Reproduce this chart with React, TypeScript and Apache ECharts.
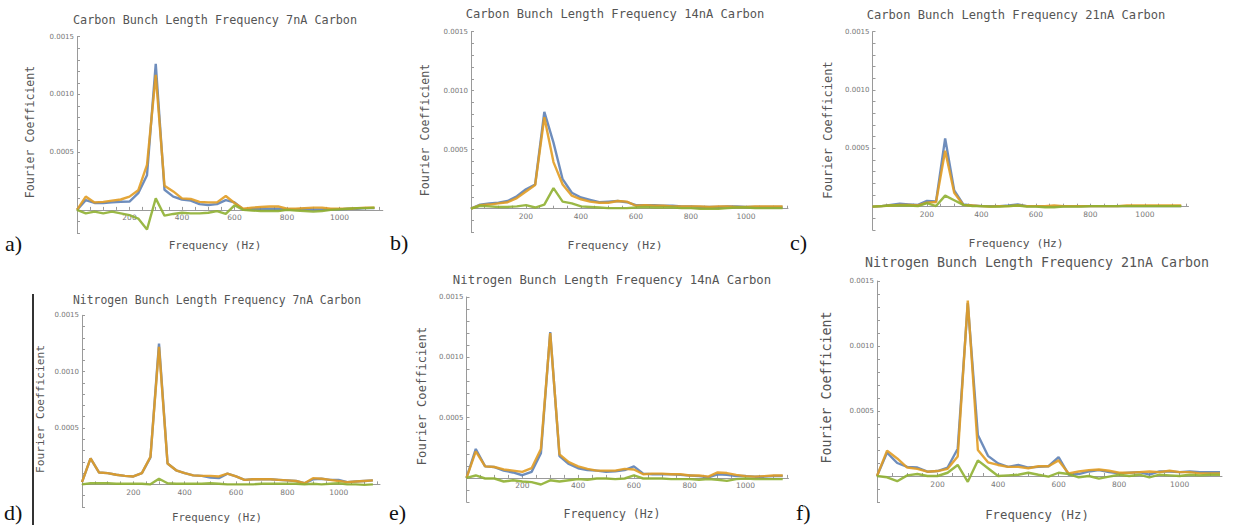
import React, { useEffect, useRef } from "react";
import * as echarts from "echarts";

// Frequency bins (Hz)
const FREQ = [0, 33.3, 66.7, 100, 133.3, 166.7, 200, 233.3, 266.7, 300, 333.3, 366.7, 400, 433.3, 466.7, 500, 533.3, 566.7, 600, 633.3, 666.7, 700, 733.3, 766.7, 800, 833.3, 866.7, 900, 933.3, 966.7, 1000, 1033.3, 1066.7, 1100, 1133.3];

// Values in units of 1e-4 (Fourier coefficient)
const A_BLUE = [0, 0.85, 0.6, 0.6, 0.65, 0.7, 0.72, 1.45, 3.0, 12.65, 1.75, 1.15, 0.9, 0.8, 0.5, 0.43, 0.5, 0.85, 0.65, 0.05, 0.1, 0.1, 0.1, 0.1, 0.05, 0.05, 0.1, 0.05, 0.05, 0.05, 0.05, 0.1, 0.1, 0.15, 0.15];
const A_ORANGE = [0, 1.15, 0.65, 0.7, 0.8, 0.9, 1.15, 1.7, 3.9, 11.7, 2.1, 1.6, 1.0, 0.95, 0.7, 0.65, 0.65, 1.2, 0.6, 0.1, 0.2, 0.25, 0.3, 0.3, 0.1, 0.1, 0.15, 0.2, 0.2, 0.1, 0.1, 0.1, 0.15, 0.2, 0.2];
const A_GREEN = [0, -0.3, -0.15, -0.3, -0.15, -0.3, -0.45, -0.75, -1.7, 1.0, -0.5, -0.35, -0.25, -0.3, -0.3, -0.25, -0.1, -0.35, 0.4, 0.0, -0.05, -0.1, -0.1, -0.1, 0.0, -0.05, -0.1, -0.15, -0.1, 0.0, 0.05, 0.1, 0.15, 0.15, 0.2];

const B_BLUE = [0, 0.35, 0.45, 0.5, 0.65, 1.05, 1.65, 2.05, 8.2, 5.6, 2.5, 1.35, 0.95, 0.75, 0.55, 0.6, 0.65, 0.55, 0.3, 0.3, 0.3, 0.25, 0.25, 0.2, 0.2, 0.15, 0.15, 0.15, 0.2, 0.2, 0.15, 0.15, 0.15, 0.15, 0.15];
const B_ORANGE = [0, 0.3, 0.35, 0.45, 0.55, 0.9, 1.45, 2.0, 7.75, 3.95, 2.05, 1.1, 0.8, 0.6, 0.5, 0.5, 0.65, 0.6, 0.25, 0.3, 0.25, 0.25, 0.2, 0.2, 0.2, 0.2, 0.15, 0.2, 0.2, 0.15, 0.15, 0.2, 0.2, 0.2, 0.2];
const B_GREEN = [0, 0.25, 0.2, 0.15, 0.15, 0.2, 0.3, 0.1, 0.35, 1.75, 0.6, 0.45, 0.2, 0.15, 0.1, 0.05, 0.05, 0.05, 0.1, 0.15, 0.1, 0.1, 0.1, 0.05, 0.05, 0.0, 0.0, 0.0, 0.05, 0.1, 0.1, 0.05, 0.05, 0.05, 0.05];

const C_BLUE = [0, 0.05, 0.15, 0.25, 0.2, 0.15, 0.5, 0.45, 5.85, 1.4, 0.2, 0.1, 0.05, 0.05, 0.05, 0.1, 0.2, 0.05, 0.05, 0.0, 0.0, 0.05, 0.05, 0.05, 0.05, 0.05, 0.05, 0.05, 0.05, 0.05, 0.05, 0.05, 0.05, 0.05, 0.05];
const C_ORANGE = [0, 0.05, 0.1, 0.15, 0.15, 0.1, 0.35, 0.4, 4.8, 1.2, 0.15, 0.1, 0.05, 0.0, 0.05, 0.05, 0.1, 0.05, 0.05, 0.05, 0.1, 0.05, 0.05, 0.05, 0.05, 0.05, 0.05, 0.05, 0.1, 0.1, 0.1, 0.1, 0.1, 0.1, 0.1];
const C_GREEN = [0, 0.05, 0.1, 0.1, 0.1, 0.05, 0.3, 0.05, 0.95, 0.55, 0.15, 0.05, 0.05, 0.0, 0.0, 0.05, 0.1, 0.0, 0.0, -0.05, -0.05, 0.0, 0.0, 0.0, 0.05, 0.05, 0.05, 0.05, 0.05, 0.05, 0.05, 0.05, 0.05, 0.05, 0.05];

const D_BLUE = [0.2, 2.3, 1.05, 1.0, 0.85, 0.75, 0.7, 1.0, 2.4, 12.5, 1.85, 1.25, 1.0, 0.8, 0.75, 0.6, 0.55, 0.95, 0.7, 0.4, 0.45, 0.45, 0.45, 0.4, 0.35, 0.3, 0.1, 0.45, 0.5, 0.4, 0.4, 0.2, 0.25, 0.3, 0.35];
const D_ORANGE = [0.2, 2.3, 1.05, 1.0, 0.85, 0.75, 0.7, 1.0, 2.45, 12.2, 1.85, 1.25, 1.0, 0.8, 0.75, 0.75, 0.7, 0.95, 0.7, 0.4, 0.45, 0.45, 0.45, 0.4, 0.35, 0.3, 0.1, 0.55, 0.5, 0.4, 0.3, 0.2, 0.25, 0.3, 0.35];
const D_GREEN = [0, 0.1, 0.1, 0.1, 0.05, 0.05, 0.05, 0.05, 0.0, 0.5, 0.1, 0.05, 0.05, 0.05, 0.05, 0.1, 0.05, 0.0, 0.0, 0.0, 0.0, 0.05, 0.05, 0.05, 0.05, 0.05, 0.0, 0.05, 0.0, 0.05, 0.1, 0.0, 0.0, -0.05, 0.0];

const E_BLUE = [0, 2.4, 0.95, 0.9, 0.6, 0.45, 0.22, 0.5, 2.05, 12.1, 1.8, 1.15, 0.8, 0.65, 0.6, 0.5, 0.55, 0.65, 0.95, 0.35, 0.3, 0.3, 0.3, 0.25, 0.2, 0.15, 0.05, 0.3, 0.25, 0.15, 0.15, 0.1, 0.1, 0.15, 0.15];
const E_ORANGE = [0, 2.2, 0.95, 0.9, 0.7, 0.6, 0.5, 0.8, 2.4, 12.0, 1.95, 1.3, 0.95, 0.75, 0.6, 0.6, 0.6, 0.75, 0.7, 0.3, 0.35, 0.35, 0.3, 0.3, 0.2, 0.2, 0.1, 0.45, 0.4, 0.25, 0.15, 0.1, 0.15, 0.2, 0.2];
const E_GREEN = [0, 0.2, -0.05, -0.05, -0.3, -0.2, -0.3, -0.35, -0.55, -0.2, -0.3, -0.2, -0.1, -0.15, -0.05, -0.05, -0.1, -0.05, 0.2, -0.05, -0.05, -0.05, -0.1, -0.1, -0.1, -0.15, -0.1, -0.15, -0.25, -0.1, -0.05, -0.1, -0.1, -0.1, -0.1];

const F_BLUE = [0, 1.8, 1.0, 0.7, 0.65, 0.33, 0.38, 0.65, 2.1, 13.3, 3.15, 1.55, 0.97, 0.7, 0.85, 0.65, 0.7, 0.75, 1.45, 0.1, 0.15, 0.35, 0.45, 0.3, 0.2, 0.25, 0.3, 0.1, 0.35, 0.35, 0.3, 0.35, 0.3, 0.3, 0.3];
const F_ORANGE = [0, 1.95, 1.35, 0.65, 0.55, 0.33, 0.38, 0.55, 1.5, 13.5, 2.0, 1.05, 0.85, 0.7, 0.7, 0.6, 0.75, 0.75, 1.2, 0.2, 0.35, 0.45, 0.5, 0.4, 0.25, 0.25, 0.3, 0.35, 0.3, 0.4, 0.3, 0.3, 0.2, 0.2, 0.2];
const F_GREEN = [0, -0.1, -0.4, 0.05, 0.15, 0.0, 0.0, 0.25, 0.85, -0.45, 1.2, 0.6, 0.0, 0.05, 0.1, 0.25, 0.1, -0.05, 0.25, 0.15, -0.1, 0.0, -0.2, -0.05, 0.1, 0.0, 0.1, -0.1, 0.1, 0.05, 0.0, 0.1, 0.05, 0.1, 0.1];

const TITLES = [
  "Carbon Bunch Length Frequency 7nA Carbon",
  "Carbon Bunch Length Frequency 14nA Carbon",
  "Carbon Bunch Length Frequency 21nA Carbon",
  "Nitrogen Bunch Length Frequency 7nA Carbon",
  "Nitrogen Bunch Length Frequency 14nA Carbon",
  "Nitrogen Bunch Length Frequency 21nA Carbon",
];
const PANEL_LABELS = ["a)", "b)", "c)", "d)", "e)", "f)"];
const X_NAME = "Frequency (Hz)";
const Y_NAME = "Fourier Coefficient";

const X_LABELS = [200, 400, 600, 800, 1000];
const X_TICKS = [50, 100, 150, 200, 250, 300, 350, 400, 450, 500, 550, 600, 650, 700, 750, 800, 850, 900, 950, 1000, 1050, 1100, 1150];
const Y_LABELS = [5, 10, 15];
const Y_TICKS = [-2, -1, 0, 1, 2, 3, 4, 5, 6, 7, 8, 9, 10, 11, 12, 13, 14, 15];
const Y_MIN = -2;
const Y_MAX = 15;

const SERIES_DATA = [
  [A_BLUE, A_ORANGE, A_GREEN],
  [B_BLUE, B_ORANGE, B_GREEN],
  [C_BLUE, C_ORANGE, C_GREEN],
  [D_BLUE, D_ORANGE, D_GREEN],
  [E_BLUE, E_ORANGE, E_GREEN],
  [F_BLUE, F_ORANGE, F_GREEN],
];

const COLORS = ["#5E81B5", "#E19C24", "#8FB032"];

// Layout (pixels)
const LAYOUT = [
  { left: 77, top: 36.7, width: 305.8, height: 196.3, xmax: 1165, tx: 215, ty: 20, ts: 11.8, xx: 215, xy: 245, xs: 11, yx: 30, yy: 132, ys: 11.6, lx: 5, ly: 243 },
  { left: 471, top: 31.7, width: 317, height: 200.6, xmax: 1153, tx: 615, ty: 14, ts: 12.1, xx: 615, xy: 245, xs: 11.3, yx: 425, yy: 130, ys: 11.6, lx: 390, ly: 242 },
  { left: 872.5, top: 31.7, width: 316, height: 198.3, xmax: 1160, tx: 1016, ty: 15, ts: 12.1, xx: 1016, xy: 243, xs: 11.3, yx: 828, yy: 130, ys: 12, lx: 790, ly: 242 },
  { left: 82, top: 315.3, width: 298, height: 191.6, xmax: 1161, tx: 217, ty: 300, ts: 11.4, xx: 217, xy: 517, xs: 10.7, yx: 40.7, yy: 409, ys: 11.2, lx: 4, ly: 512 },
  { left: 466.5, top: 297, width: 322, height: 205, xmax: 1154, tx: 612, ty: 280, ts: 12.3, xx: 612, xy: 514, xs: 11.5, yx: 422, yy: 396, ys: 12.1, lx: 389, ly: 512 },
  { left: 877, top: 281, width: 345, height: 221, xmax: 1140, tx: 1037, ty: 262, ts: 13.3, xx: 1037, xy: 515, xs: 12.3, yx: 826.7, yy: 387.5, ys: 13.3, lx: 796, ly: 512 },
];

const MONO = "'DejaVu Sans Mono', monospace";

export default function App() {
  const ref = useRef<HTMLDivElement>(null);
  useEffect(() => {
    if (!ref.current) return;
    const chart = echarts.init(ref.current, undefined, { renderer: "svg" });
    const grid: any[] = [];
    const xAxis: any[] = [];
    const yAxis: any[] = [];
    const series: any[] = [];
    const graphic: any[] = [];
    LAYOUT.forEach((L, k) => {
      grid.push({ left: L.left, top: L.top, width: L.width, height: L.height, containLabel: false });
      // put the x axis on the zero line (Mathematica style axes)
      const zeroOffset = (L.height * (0 - Y_MIN)) / (Y_MAX - Y_MIN);
      xAxis.push({
        type: "value",
        gridIndex: k,
        min: 0,
        max: L.xmax,
        position: "bottom",
        offset: -zeroOffset,
        axisLine: { show: true, onZero: false, lineStyle: { color: "#9a9a9a", width: 1 } },
        axisTick: { show: true, inside: true, length: 3, customValues: X_TICKS.filter((t) => t < L.xmax), lineStyle: { color: "#9a9a9a" } },
        axisLabel: {
          show: true,
          customValues: X_LABELS,
          fontSize: 7.5,
          color: "#777",
          fontFamily: "'DejaVu Sans', sans-serif",
          margin: 4,
          formatter: (v: number) => String(v),
        },
        splitLine: { show: false },
      });
      yAxis.push({
        type: "value",
        gridIndex: k,
        min: Y_MIN,
        max: Y_MAX,
        axisLine: { show: true, onZero: false, lineStyle: { color: "#9a9a9a", width: 1 } },
        axisTick: { show: true, inside: true, length: 3, customValues: Y_TICKS, lineStyle: { color: "#9a9a9a" } },
        axisLabel: {
          show: true,
          customValues: Y_LABELS,
          fontSize: 7,
          color: "#777",
          fontFamily: "'DejaVu Sans', sans-serif",
          margin: 3,
          formatter: (v: number) => (v / 10000).toFixed(4),
        },
        splitLine: { show: false },
      });
      SERIES_DATA[k].forEach((vals, s) => {
        series.push({
          type: "line",
          xAxisIndex: k,
          yAxisIndex: k,
          data: FREQ.map((f, i) => [f, vals[i]]),
          showSymbol: false,
          symbol: "none",
          silent: true,
          lineStyle: { color: COLORS[s], width: 2.4, opacity: 0.9 },
          z: 2 + s,
        });
      });
      graphic.push({
        type: "text",
        x: L.tx,
        y: L.ty,
        style: { text: TITLES[k], font: `${L.ts}px ${MONO}`, fill: "#555", align: "center", verticalAlign: "middle" },
      });
      graphic.push({
        type: "text",
        x: L.xx,
        y: L.xy,
        style: { text: X_NAME, font: `${L.xs}px ${MONO}`, fill: "#555", align: "center", verticalAlign: "middle" },
      });
      graphic.push({
        type: "text",
        x: L.yx,
        y: L.yy,
        rotation: Math.PI / 2,
        style: { text: Y_NAME, font: `${L.ys}px ${MONO}`, fill: "#555", align: "center", verticalAlign: "middle" },
      });
      graphic.push({
        type: "text",
        x: L.lx,
        y: L.ly,
        style: { text: PANEL_LABELS[k], font: "22px 'Liberation Serif', serif", fill: "#111", align: "left", verticalAlign: "middle" },
      });
    });
    graphic.push({
      type: "line",
      shape: { x1: 33, y1: 294, x2: 33, y2: 525 },
      style: { stroke: "#333", lineWidth: 2 },
    });
    chart.setOption({
      animation: false,
      backgroundColor: "#fff",
      grid,
      xAxis,
      yAxis,
      series,
      graphic,
    });
    return () => chart.dispose();
  }, []);
  return (
    <div
      ref={ref}
      style={{ position: "fixed", left: 0, top: 0, width: 1233, height: 525, background: "#fff" }}
    />
  );
}
